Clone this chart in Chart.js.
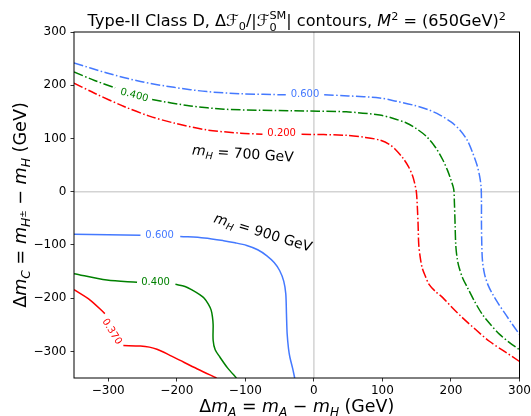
<!DOCTYPE html>
<html>
<head>
<meta charset="utf-8">
<script src="https://cdn.jsdelivr.net/npm/chart.js@4.4.0/dist/chart.umd.min.js"></script>
<style>
html, body { margin: 0; padding: 0; background: #fff; }
</style>
</head>
<body>
<canvas id="contourChart" width="531" height="416"></canvas>
<script>
// axis ranges and ticks
var xRange = [-350, 300];
var yRange = [-350, 300];
var xTicks = [-300, -200, -100, 0, 100, 200, 300];
var yTicks = [-300, -200, -100, 0, 100, 200, 300];
var refX = 0, refY = 0;

// m_H = 700 GeV contours (dash-dot), null = gap where the level label sits
var c700_200 = [[-350,204],[-320,185],[-277,160],[-240,142],[-204,129],[-156,116],[-107,110],[-75,108], null,
    [-18,108],[47,106],[75,102],[96,97],[110,89],[120,78],[130,63],[138,47],[144,30],[147,16],[149.5,0],
    [151,-30],[152,-60],[153,-99],[155,-122],[158,-143],[163,-160],[168,-174],[177,-187],[188,-199],
    [202,-218],[217,-237],[236,-259],[256,-281],[278,-300],[300,-319]];
var c700_400 = [[-350,225],[-320,209],[-290,195], null,
    [-236,173],[-180,161],[-131,155],[-80,153],[-34,152],[47,150],[96,144],[115,138],[135,129],[150,118],
    [164,104],[177,84],[188,60],[195,40],[200,22],[204,5],[205,-20],[206,-60],[207,-100],[209,-125],
    [212,-143],[217,-162],[224,-180],[234,-205],[246,-231],[258,-250],[271,-268],[285,-283],[300,-297]];
var c700_600 = [[-350,242],[-302,223],[-253,207],[-204,196],[-156,188],[-107,184],[-41,182], null,
    [15,182],[50,180],[96,176],[120,170],[144,163],[165,155],[184,144],[200,131],[213,116],[224,96],
    [232,72],[238,50],[242,28],[244,8],[244.5,-20],[244.5,-60],[245,-100],[246,-130],[249,-155],
    [254,-175],[261,-193],[270,-212],[280,-231],[290,-250],[300,-268]];

// m_H = 900 GeV contours (solid)
var c900_370 = [[-350,-184],[-326,-204],[-305,-229], null,
    [-278,-289],[-253,-290],[-240,-292],[-229,-296],[-212,-306],[-195,-317],[-170,-333],[-142,-350]];
var c900_400 = [[-350,-154],[-302,-166],[-258,-170], null,
    [-202,-174],[-188,-178],[-176,-186],[-166,-194],[-160,-200],[-154,-211],[-150,-222],[-148,-235],
    [-147,-250],[-147,-279],[-144,-297],[-137,-311],[-126,-331],[-113,-350]];
var c900_600 = [[-350,-80],[-300,-81],[-253,-82], null,
    [-195,-84],[-160,-87],[-132,-92],[-115,-96],[-98,-101],[-82,-109],[-69,-120],[-58,-133],[-50,-148],
    [-44,-168],[-41,-192],[-40,-230],[-39,-267],[-37,-295],[-35,-311],[-31,-332],[-28,-350]];

// inline level labels: [text, x, y, angle in degrees]
var levelLabels700 = [['0.200', -47, 109, 0], ['0.400', -262, 181, 15], ['0.600', -13, 183, 0]];
var levelLabels900 = [['0.370', -295, -263, 58], ['0.400', -231, -171, 0], ['0.600', -225, -82, 0]];

var RED = '#ff0000', GREEN = '#008000', BLUE = '#4479ff';
var FONT = '"DejaVu Sans", sans-serif';

function toPoints(arr) {
    var out = [];
    var lastX = 0;
    arr.forEach(function (p) {
        if (p === null) { out.push({ x: lastX, y: null }); }
        else { out.push({ x: p[0], y: p[1] }); lastX = p[0]; }
    });
    return out;
}

function line(data, color, dashed) {
    return {
        data: toPoints(data),
        borderColor: color,
        borderWidth: 1.5,
        borderDash: dashed ? [9.6, 2.4, 1.5, 2.4] : [],
        pointRadius: 0,
        tension: 0.3,
        spanGaps: false,
        fill: false
    };
}

function fontStr(size, italic) {
    return (italic ? 'italic ' : '') + size + 'px ' + FONT;
}

// simple rich text: runs with size scale, italic and vertical shift
function layoutRich(ctx, runs, size) {
    var x = 0, items = [], lastStart = 0;
    runs.forEach(function (r) {
        var s = size * (r.s || 1);
        ctx.font = fontStr(s, r.it);
        var w = ctx.measureText(r.t).width;
        var start = r.stack ? lastStart : x;
        items.push({ t: r.t, f: ctx.font, x: start, dy: (r.dy || 0) * size });
        if (r.stack) { x = Math.max(x, start + w); }
        else { lastStart = start; x = start + w; }
    });
    return { items: items, width: x };
}

function drawRich(ctx, runs, size, cx, cy, rot, color) {
    ctx.save();
    ctx.translate(cx, cy);
    ctx.rotate(rot || 0);
    var L = layoutRich(ctx, runs, size);
    var x0 = -L.width / 2;
    ctx.fillStyle = color;
    ctx.textBaseline = 'alphabetic';
    ctx.textAlign = 'left';
    L.items.forEach(function (it) {
        ctx.font = it.f;
        ctx.fillText(it.t, x0 + it.x, it.dy);
    });
    ctx.restore();
}

var SUB = 0.22, SUP = -0.4;
var titleRuns = [
    { t: 'Type-II Class D, ' }, { t: 'Δ' }, { t: 'ℱ' }, { t: '0', s: 0.7, dy: SUB },
    { t: '/|' }, { t: 'ℱ' }, { t: 'SM', s: 0.7, dy: -0.45 }, { t: '0', s: 0.7, dy: 0.3, stack: true },
    { t: '| contours, ' }, { t: 'M', it: true }, { t: '2', s: 0.7, dy: SUP },
    { t: ' = (650GeV)' }, { t: '2', s: 0.7, dy: SUP }
];
var xLabelRuns = [
    { t: 'Δ' }, { t: 'm', it: true }, { t: 'A', it: true, s: 0.7, dy: SUB }, { t: ' = ' },
    { t: 'm', it: true }, { t: 'A', it: true, s: 0.7, dy: SUB }, { t: ' − ' },
    { t: 'm', it: true }, { t: 'H', it: true, s: 0.7, dy: SUB }, { t: ' (GeV)' }
];
var yLabelRuns = [
    { t: 'Δ' }, { t: 'm', it: true }, { t: 'C', it: true, s: 0.7, dy: SUB }, { t: ' = ' },
    { t: 'm', it: true }, { t: 'H', it: true, s: 0.7, dy: SUB }, { t: '±', s: 0.5, dy: 0.02 }, { t: ' − ' },
    { t: 'm', it: true }, { t: 'H', it: true, s: 0.7, dy: SUB }, { t: ' (GeV)' }
];
function massRuns(v) {
    return [{ t: 'm', it: true }, { t: 'H', it: true, s: 0.7, dy: SUB }, { t: ' = ' + v + ' GeV' }];
}

var decor = {
    id: 'decor',
    beforeDatasetsDraw: function (chart) {
        var ctx = chart.ctx, a = chart.chartArea;
        var xs = chart.scales.x, ys = chart.scales.y;
        ctx.save();
        ctx.strokeStyle = '#d3d3d3';
        ctx.lineWidth = 1.5;
        ctx.beginPath();
        var px = xs.getPixelForValue(refX), py = ys.getPixelForValue(refY);
        ctx.moveTo(px, a.top); ctx.lineTo(px, a.bottom);
        ctx.moveTo(a.left, py); ctx.lineTo(a.right, py);
        ctx.stroke();
        ctx.restore();
    },
    afterDatasetsDraw: function (chart) {
        var ctx = chart.ctx, a = chart.chartArea;
        var xs = chart.scales.x, ys = chart.scales.y;
        // frame
        ctx.save();
        ctx.strokeStyle = '#000';
        ctx.lineWidth = 1;
        ctx.strokeRect(a.left, a.top, a.right - a.left, a.bottom - a.top);
        ctx.restore();

        // level labels
        var colors = [RED, GREEN, BLUE];
        [levelLabels700, levelLabels900].forEach(function (set) {
            set.forEach(function (l, i) {
                ctx.save();
                ctx.translate(xs.getPixelForValue(l[1]), ys.getPixelForValue(l[2]));
                ctx.rotate(l[3] * Math.PI / 180);
                ctx.font = fontStr(10, false);
                ctx.fillStyle = colors[i];
                ctx.textAlign = 'center';
                ctx.textBaseline = 'middle';
                ctx.fillText(l[0], 0, 0);
                ctx.restore();
            });
        });

        // mass annotations
        drawRich(ctx, massRuns(700), 14, xs.getPixelForValue(-104), ys.getPixelForValue(63), 4 * Math.PI / 180, '#000');
        drawRich(ctx, massRuns(900), 14, xs.getPixelForValue(-76), ys.getPixelForValue(-85), 17 * Math.PI / 180, '#000');

        // title and axis titles
        var cx = (a.left + a.right) / 2, cy = (a.top + a.bottom) / 2;
        drawRich(ctx, titleRuns, 16.1, cx, 26, 0, '#000');
        drawRich(ctx, xLabelRuns, 17.4, cx, 412, 0, '#000');
        drawRich(ctx, yLabelRuns, 17.6, 26, cy, -Math.PI / 2, '#000');
    }
};

function tickFmt(v) {
    return String(v).replace('-', '\u2212');
}

var ctx = document.getElementById('contourChart');
var myChart = new Chart(ctx, {
    type: 'line',
    data: {
        datasets: [
            line(c700_200, RED, true),
            line(c700_400, GREEN, true),
            line(c700_600, BLUE, true),
            line(c900_370, RED, false),
            line(c900_400, GREEN, false),
            line(c900_600, BLUE, false)
        ]
    },
    options: {
        responsive: false,
        animation: false,
        layout: { padding: { top: 32, right: 11.5, left: 0, bottom: 0 } },
        plugins: { legend: { display: false }, tooltip: { enabled: false }, title: { display: false } },
        scales: {
            x: {
                type: 'linear',
                min: xRange[0],
                max: xRange[1],
                afterBuildTicks: function (s) { s.ticks = xTicks.map(function (v) { return { value: v }; }); },
                afterFit: function (s) { s.height = 38; s.paddingLeft = 0; s.paddingRight = 0; },
                grid: { drawOnChartArea: false, drawTicks: true, tickLength: 3.5, color: '#000', lineWidth: 0.8 },
                border: { display: false },
                ticks: {
                    autoSkip: false, maxRotation: 0, padding: 2, color: '#000',
                    font: { family: FONT, size: 12 },
                    callback: tickFmt
                }
            },
            y: {
                type: 'linear',
                min: yRange[0],
                max: yRange[1],
                afterBuildTicks: function (s) { s.ticks = yTicks.map(function (v) { return { value: v }; }); },
                afterFit: function (s) { s.width = 74; s.paddingTop = 0; s.paddingBottom = 0; },
                grid: { drawOnChartArea: false, drawTicks: true, tickLength: 3.5, color: '#000', lineWidth: 0.8 },
                border: { display: false },
                ticks: {
                    autoSkip: false, padding: 4, color: '#000',
                    font: { family: FONT, size: 12 },
                    callback: tickFmt
                }
            }
        }
    },
    plugins: [decor]
});
</script>
</body>
</html>
